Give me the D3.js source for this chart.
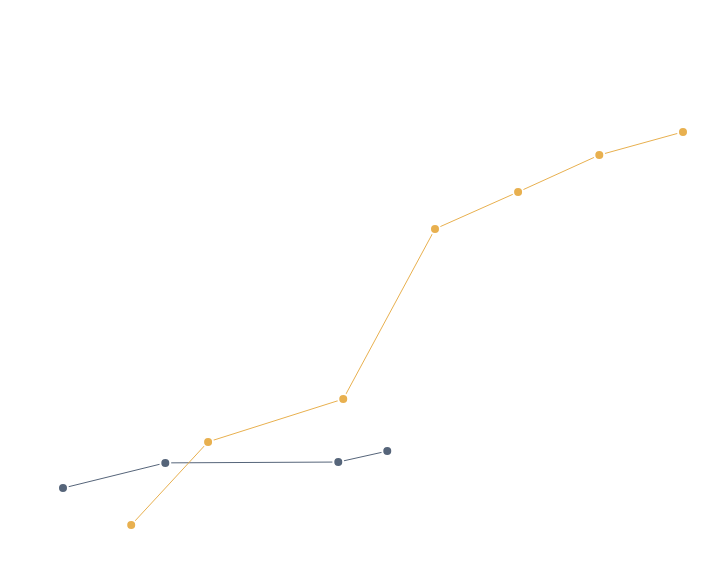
<!DOCTYPE html>
<html>
<head>
<meta charset="utf-8">
<script src="https://cdn.jsdelivr.net/npm/d3@7"></script>
<style>
  body { margin: 0; background: #fff; }
</style>
</head>
<body>
<svg class="chart" width="710" height="567"></svg>
<script>
// series values (x, y)
const orangeX = [1.10, 2.34, 4.52, 6.0, 7.34, 8.65, 10];
const orangeY = [3.8, 23.6, 33.8, 74.3, 83.1, 91.9, 97.4];
const slateX = [0, 1.65, 4.44, 5.23];
const slateY = [12.6, 18.6, 18.8, 21.4];

const series = [
    {name: 'slate', color: '#56657a', xs: slateX, ys: slateY},
    {name: 'orange', color: '#e8b04f', xs: orangeX, ys: orangeY}
];

let svg = d3.select('.chart');

let xScale = d3.scaleLinear()
    .domain([0, 10])
    .range([63, 683]);
let yScale = d3.scaleLinear()
    .domain([0, 100])
    .range([541, 121]);

let line = d3.line()
    .x(d => xScale(d[0]))
    .y(d => yScale(d[1]));

series.forEach(function(s) {
    let pts = s.xs.map((x, i) => [x, s.ys[i]]);
    let g = svg.append('g').attr('class', s.name);
    g.append('path')
        .datum(pts)
        .attr('fill', 'none')
        .attr('stroke', s.color)
        .attr('stroke-width', 1)
        .attr('d', line);
    g.selectAll('circle')
        .data(pts)
        .join('circle')
        .attr('cx', d => xScale(d[0]))
        .attr('cy', d => yScale(d[1]))
        .attr('r', 5)
        .attr('fill', s.color)
        .attr('stroke', '#fff')
        .attr('stroke-width', 2);
});
</script>
</body>
</html>
